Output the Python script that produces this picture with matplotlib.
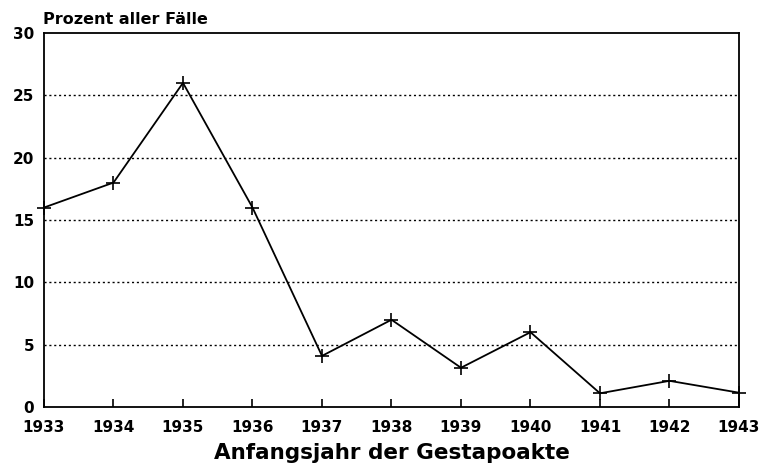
import matplotlib
matplotlib.use('Agg')
import matplotlib.pyplot as plt

plt.rcParams['font.family'] = ['DejaVu Sans']

jahre = [1933, 1934, 1935, 1936, 1937, 1938, 1939, 1940, 1941, 1942, 1943]
prozent = [16, 18, 26, 16, 4.1, 7, 3.15, 6, 1.1, 2.1, 1.15]
y_ticks = [0, 5, 10, 15, 20, 25, 30]

fig = plt.figure(figsize=(7.65, 4.68), dpi=100)
ax = fig.add_axes([0.0575, 0.1303, 0.9085, 0.7992])

ax.plot(jahre, prozent, color='black', lw=1.3, marker='+', ms=10, mew=1.2, clip_on=False, zorder=3)

ax.set_xlim(1933, 1943)
ax.set_ylim(0, 30)
ax.set_xticks(jahre)
ax.set_yticks(y_ticks)
# gepunktete Hilfslinien
for y in y_ticks[1:-1]:
    ax.axhline(y, color='black', lw=1.0, ls=(0, (1.5, 2)), zorder=1)

ax.tick_params(axis='x', direction='in', length=6, width=1.2, pad=9, labelsize=11)
ax.tick_params(axis='y', length=0, pad=7, labelsize=11)
for lab in ax.get_xticklabels() + ax.get_yticklabels():
    lab.set_fontweight('bold')
for s in ax.spines.values():
    s.set_linewidth(1.3)

ax.set_xlabel('Anfangsjahr der Gestapoakte', fontsize=15.5, fontweight='bold', labelpad=6)
fig.text(0.056, 0.9487, 'Prozent aller Fälle', fontsize=11.5, fontweight='bold', va='baseline', ha='left')

fig.savefig('out.png', dpi=100)
